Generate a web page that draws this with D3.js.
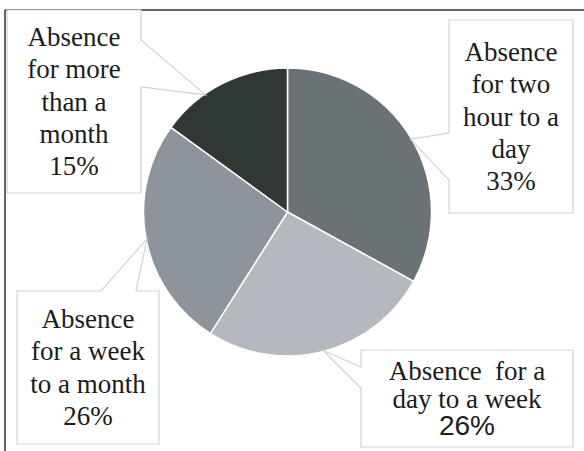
<!DOCTYPE html>
<html>
<head>
<meta charset="utf-8">
<script src="https://cdn.jsdelivr.net/npm/d3@7"></script>
</head>
<body style="margin:0">
<svg id="chart" width="584" height="451"></svg>
<script>
// Reasons for absence and their share of all cases (%)
const categories = [
  "Absence for two hour to a day",
  "Absence for a day to a week",
  "Absence for a week to a month",
  "Absence for more than a month"
];
const values = [33, 26, 26, 15];

// Text shown inside each callout, line by line
const labelLines = [
  ["Absence", "for two", "hour to a", "day", "33%"],
  ["Absence\u00A0 for a", "day to a week", "26%"],
  ["Absence", "for a week", "to a month", "26%"],
  ["Absence", "for more", "than a", "month", "15%"]
];

const colors = ["#6b7275", "#b5b9bf", "#8e949b", "#303836"];

const svg = d3.select("#chart");
const cx = 287.5, cy = 212, radius = 144;

// Frame lines along the top and left
svg.append("line").attr("x1", 5).attr("y1", 10).attr("x2", 584).attr("y2", 10)
  .attr("stroke", "#333").attr("stroke-width", 1.5);
svg.append("line").attr("x1", 5).attr("y1", 10).attr("x2", 5).attr("y2", 451)
  .attr("stroke", "#333").attr("stroke-width", 1.5);

const pie = d3.pie().value(d => d).sort(null);
const arcs = pie(values);
const arc = d3.arc().innerRadius(0).outerRadius(radius);

svg.append("g").attr("transform", `translate(${cx},${cy})`)
  .selectAll("path")
  .data(arcs)
  .join("path")
  .attr("d", arc)
  .attr("fill", (d, i) => colors[i])
  .attr("stroke", "#fff")
  .attr("stroke-width", 1.5)
  .attr("stroke-linejoin", "round");

// Callout boxes: rectangle, side of the pointer notch, notch span, angle tweak, line spacing
const callouts = [
  { x0: 449, y0: 20,  x1: 573, y1: 213, side: "left",  a: 133, b: 180, shift: 0,  lh: 32.3, pct: "serif" },
  { x0: 361, y0: 350, x1: 573, y1: 447, side: "left",  a: 367, b: 388, shift: 0,  lh: 27.5, pct: "sans" },
  { x0: 17,  y0: 291, x1: 159, y1: 444, side: "top",   a: 101, b: 136, shift: 0,  lh: 32.3, pct: "serif" },
  { x0: 7,   y0: 10,  x1: 141, y1: 193, side: "right", a: 40,  b: 87,  shift: -8, lh: 32.3, pct: "serif" }
];

function tipPoint(d, shiftDeg) {
  const ang = (d.startAngle + d.endAngle) / 2 + shiftDeg * Math.PI / 180;
  const r = radius - 1;
  return [cx + r * Math.sin(ang), cy - r * Math.cos(ang)];
}

function calloutPath(c, tip) {
  const p = d3.path();
  const [tx, ty] = tip;
  p.moveTo(c.x0, c.y0);
  if (c.side === "top") {
    p.lineTo(c.a, c.y0); p.lineTo(tx, ty); p.lineTo(c.b, c.y0);
  }
  p.lineTo(c.x1, c.y0);
  if (c.side === "right") {
    p.lineTo(c.x1, c.a); p.lineTo(tx, ty); p.lineTo(c.x1, c.b);
  }
  p.lineTo(c.x1, c.y1);
  p.lineTo(c.x0, c.y1);
  if (c.side === "left") {
    p.lineTo(c.x0, c.b); p.lineTo(tx, ty); p.lineTo(c.x0, c.a);
  }
  p.closePath();
  return p.toString();
}

const labels = svg.append("g");
arcs.forEach((d, i) => {
  const c = callouts[i];
  labels.append("path")
    .attr("d", calloutPath(c, tipPoint(d, c.shift)))
    .attr("fill", "#fff")
    .attr("stroke", "#d0d3d8")
    .attr("stroke-width", 1.2);

  const lines = labelLines[i];
  const mx = (c.x0 + c.x1) / 2;
  const my = (c.y0 + c.y1) / 2;
  const n = lines.length;
  lines.forEach((ln, k) => {
    const sansLine = k === n - 1 && c.pct === "sans";
    labels.append("text")
      .attr("x", mx)
      .attr("y", my + (k - (n - 1) / 2) * c.lh + 9)
      .attr("text-anchor", "middle")
      .attr("fill", "#1c1c1c")
      .attr("font-family", sansLine ? "Liberation Sans" : "Liberation Serif")
      .attr("font-size", sansLine ? 28 : 27)
      .text(ln);
  });
});
</script>
</body>
</html>
